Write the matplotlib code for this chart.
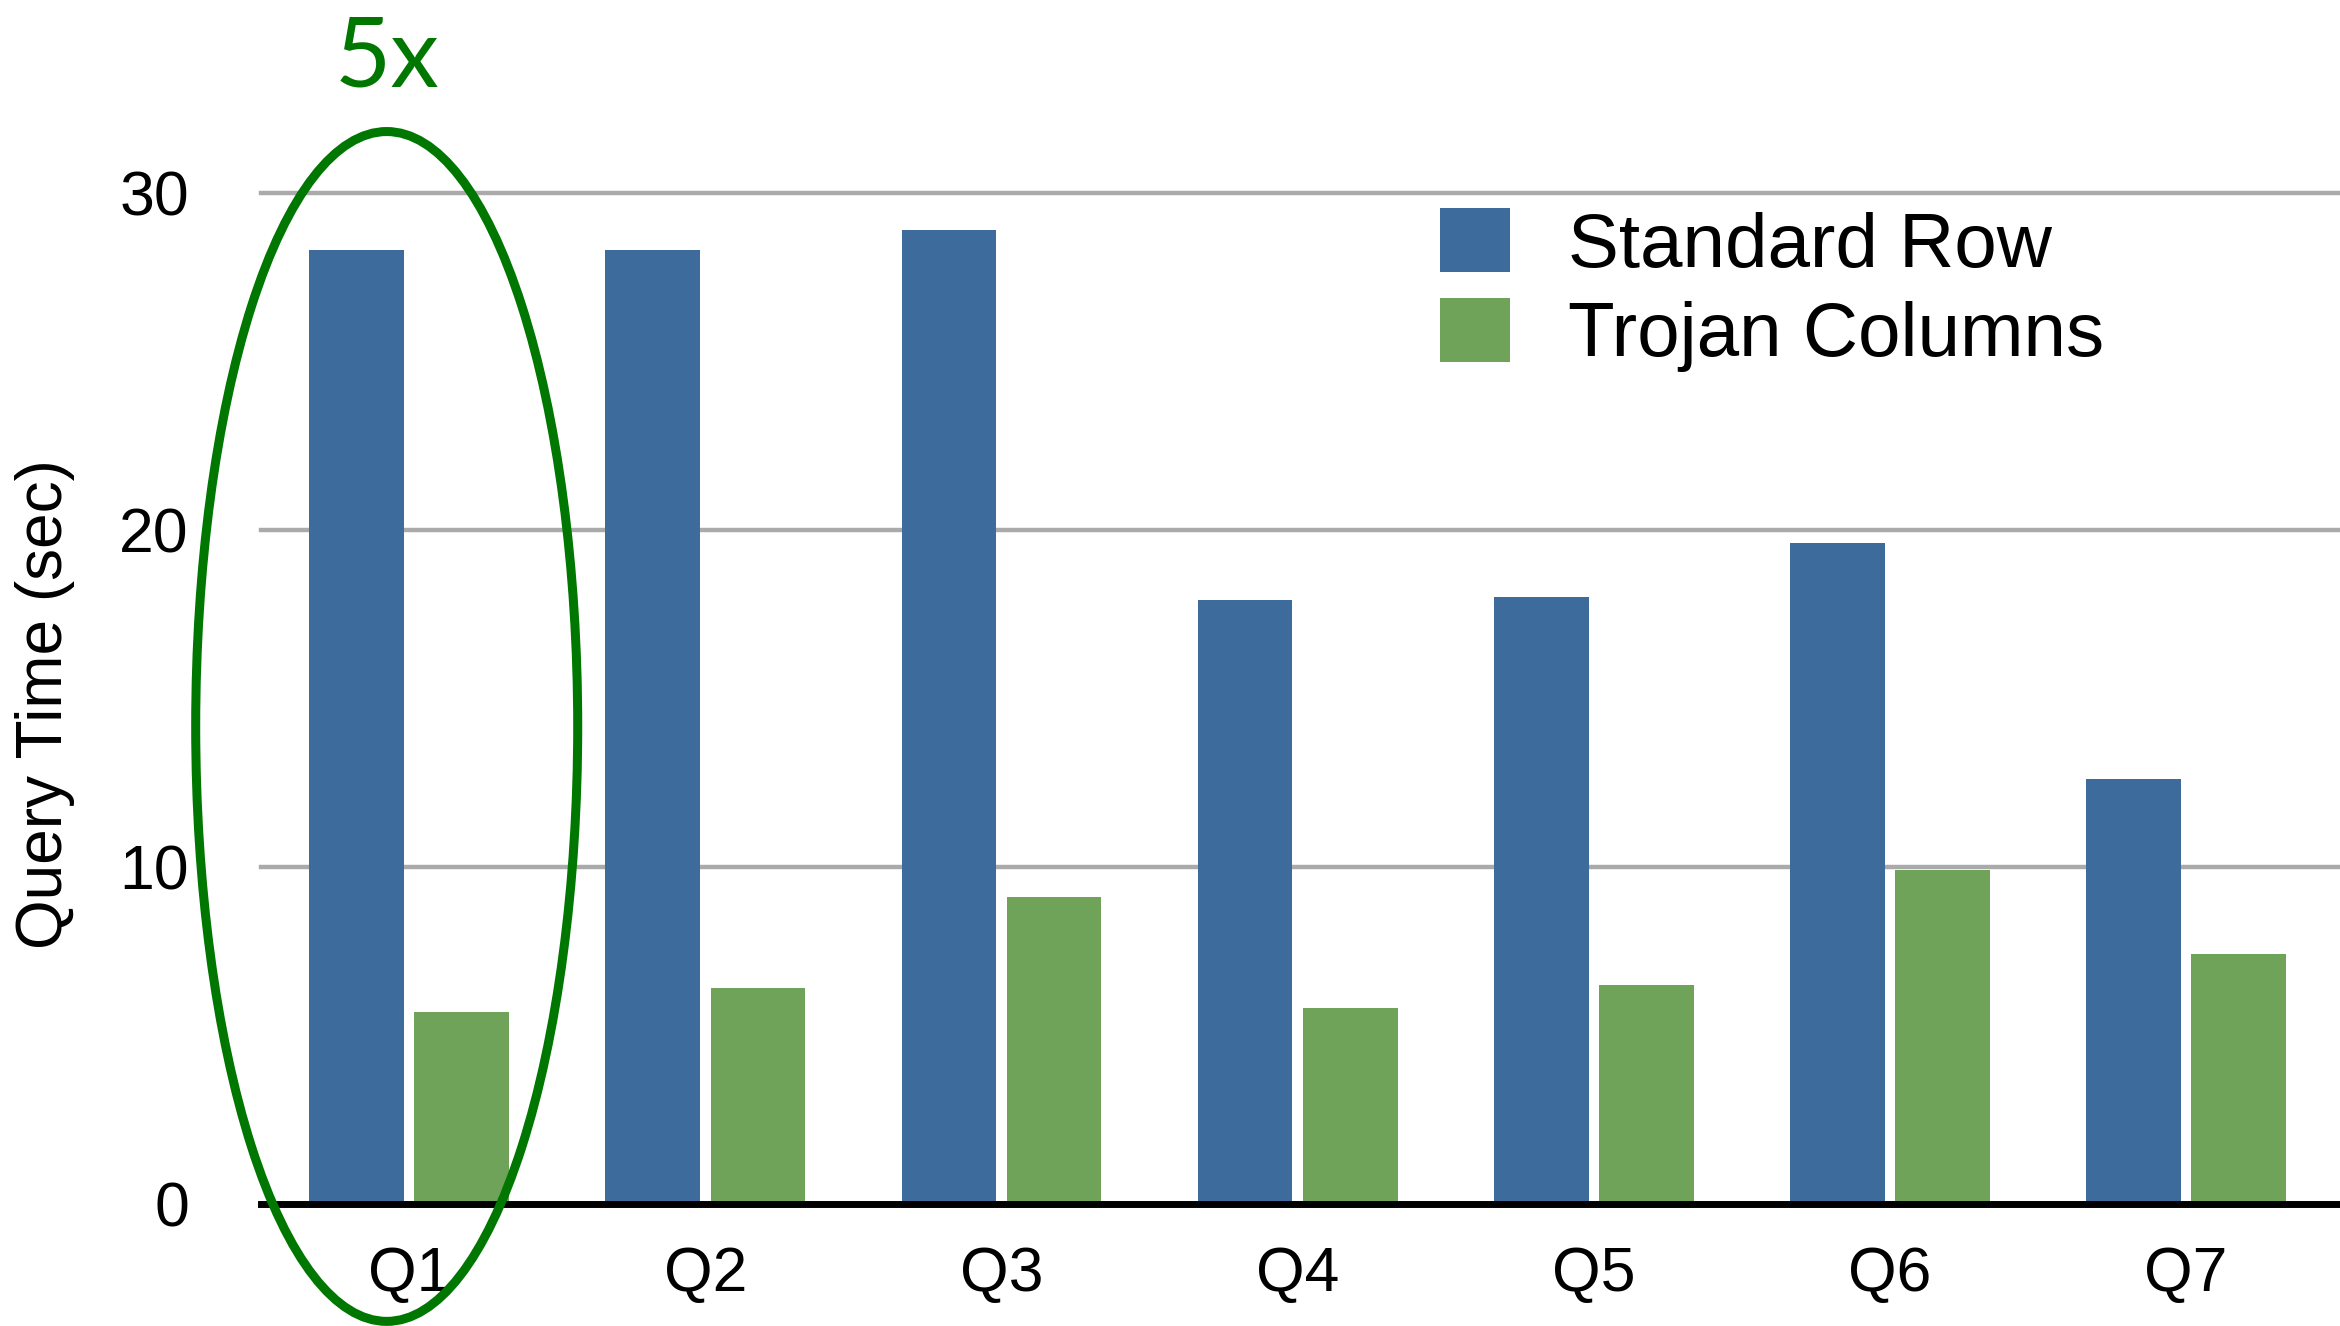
import matplotlib
matplotlib.use('Agg')
import matplotlib.pyplot as plt
from matplotlib.patches import Ellipse
import numpy as np

queries      = ['Q1', 'Q2', 'Q3', 'Q4', 'Q5', 'Q6', 'Q7']
standard_row = [28.3, 28.3, 28.9, 17.9, 18.0, 19.6, 12.6]
trojan_cols  = [5.7, 6.4, 9.1, 5.8, 6.5, 9.9, 7.4]
yticks       = [0, 10, 20, 30]

BLUE  = '#3D6B9B'
GREEN = '#6FA35A'
DARK_GREEN = '#007700'

plt.rcParams['font.family'] = ['Liberation Sans', 'DejaVu Sans']

fig = plt.figure(figsize=(23.4, 13.26), dpi=100)
ax = fig.add_axes([0.1116, 0.0922, 0.8884, 0.788])

x = np.arange(len(queries))
w = 0.32
off = 0.1775
ax.bar(x - off, standard_row, w, color=BLUE, label='Standard Row', zorder=3)
ax.bar(x + off, trojan_cols, w, color=GREEN, label='Trojan Columns', zorder=3)

ax.set_xlim(-0.5, 6.52)
ax.set_ylim(0, 31)
ax.set_xticks(x)
ax.set_xticklabels(queries)
ax.set_yticks(yticks)
ax.tick_params(axis='both', length=0, labelsize=45)
ax.tick_params(axis='x', pad=30)
ax.tick_params(axis='y', pad=52)

for y in yticks[1:]:
    ax.axhline(y, color='#AAAAAA', linewidth=3.2, zorder=1, clip_on=False)

for s in ['left', 'right', 'top']:
    ax.spines[s].set_visible(False)
ax.spines['bottom'].set_linewidth(5)
ax.spines['bottom'].set_color('black')
ax.spines['bottom'].set_zorder(4)

ax.set_ylabel('Query Time (sec)', fontsize=46)
ax.yaxis.set_label_coords(-0.0897, 0.478)

# highlight of Q1
ax.add_patch(Ellipse((-0.076, 14.16), 1.29, 35.3, fill=False,
                     edgecolor=DARK_GREEN, linewidth=6.5, clip_on=False, zorder=5))
ax.text(-0.076, 33.95, '5x', color=DARK_GREEN, fontsize=70, ha='center', va='center',
        family=['Lato', 'DejaVu Sans'])

ax.legend(loc='upper left', bbox_to_anchor=(1440 / 2340, 1 - 208 / 1326),
          bbox_transform=fig.transFigure, frameon=False, fontsize=55,
          handlelength=0.92, handleheight=0.92, handletextpad=0.75,
          labelspacing=0.2, borderpad=0, borderaxespad=0)

plt.savefig('out.png', dpi=100)
plt.close()
